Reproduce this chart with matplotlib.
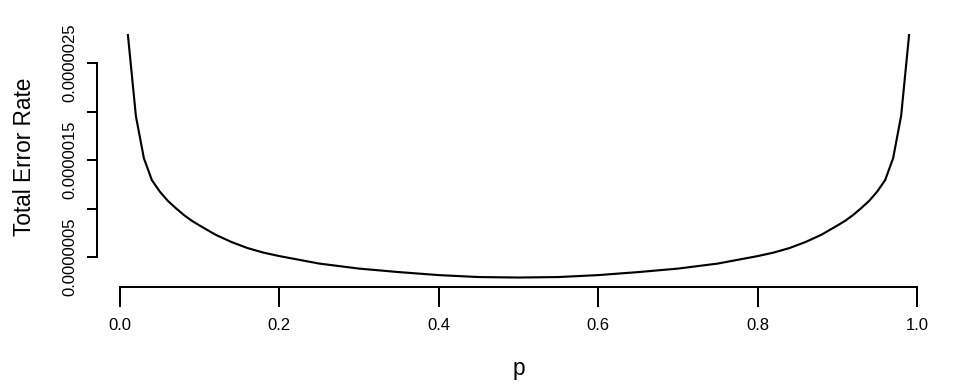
import matplotlib
matplotlib.use("Agg")
import matplotlib.pyplot as plt
from matplotlib.ticker import FixedLocator, FixedFormatter

# DATA
p_vals = [0.01, 0.02, 0.03, 0.04, 0.05, 0.06, 0.07, 0.08, 0.09, 0.10,
          0.12, 0.14, 0.16, 0.18, 0.20, 0.25, 0.30, 0.35, 0.40, 0.45,
          0.50,
          0.55, 0.60, 0.65, 0.70, 0.75, 0.80, 0.82, 0.84, 0.86, 0.88,
          0.90, 0.91, 0.92, 0.93, 0.94, 0.95, 0.96, 0.97, 0.98, 0.99]
err_e7 = [27.89, 19.54, 15.20, 12.94, 11.75, 10.80, 10.05, 9.35, 8.75, 8.25,
          7.30, 6.55, 5.93, 5.46, 5.10, 4.33, 3.81, 3.45, 3.14, 2.94,
          2.89,
          2.94, 3.14, 3.45, 3.81, 4.33, 5.10, 5.46, 5.93, 6.55, 7.30,
          8.25, 8.75, 9.35, 10.05, 10.80, 11.75, 12.94, 15.20, 19.54, 27.89]
err_rate = [v * 1e-7 for v in err_e7]

x_ticks = [0.0, 0.2, 0.4, 0.6, 0.8, 1.0]
x_labels = ["0.0", "0.2", "0.4", "0.6", "0.8", "1.0"]
y_ticks = [5e-7, 1e-6, 1.5e-6, 2e-6, 2.5e-6]
y_labels = ["0.0000005", "", "0.0000015", "", "0.0000025"]

plt.rcParams['font.family'] = ['Liberation Sans', 'DejaVu Sans']

fig = plt.figure(figsize=(10, 4), dpi=96)
ax = fig.add_axes([0.1007, 0.252, 0.8788, 0.682])

ax.plot(p_vals, err_rate, color="black", linewidth=1.6)

# R style axes: 4% padding, open box, spines only over tick range
xr = max(p_vals) - min(p_vals)
yr = max(err_rate) - min(err_rate)
ax.set_xlim(min(p_vals) - 0.04 * xr, max(p_vals) + 0.04 * xr)
ax.set_ylim(min(err_rate) - 0.04 * yr, max(err_rate) + 0.04 * yr)

for s in ["top", "right"]:
    ax.spines[s].set_visible(False)
ax.spines["left"].set_bounds(y_ticks[0], y_ticks[-1])
ax.spines["bottom"].set_bounds(x_ticks[0], x_ticks[-1])
ax.spines["left"].set_linewidth(1.5)
ax.spines["bottom"].set_linewidth(1.5)

ax.xaxis.set_major_locator(FixedLocator(x_ticks))
ax.xaxis.set_major_formatter(FixedFormatter(x_labels))
ax.yaxis.set_major_locator(FixedLocator(y_ticks))
ax.yaxis.set_major_formatter(FixedFormatter(y_labels))

ax.tick_params(axis="x", length=15, width=1.5, pad=8, labelsize=12.5)
ax.tick_params(axis="y", length=7.5, width=1.5, pad=7, labelsize=12.5)
for lab in ax.get_yticklabels():
    lab.set_rotation(90)
    lab.set_va("center")

fig.text(25 / 960, 1 - 157 / 384, "Total Error Rate", rotation=90,
         ha="center", va="center", fontsize=17)
fig.text(518.5 / 960, 1 - 368 / 384, "p", ha="center", va="center", fontsize=17)

fig.savefig("out.png", dpi=96)
